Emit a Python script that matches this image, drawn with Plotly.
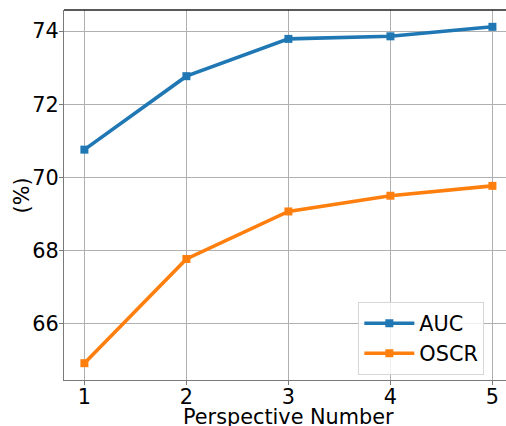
import plotly.graph_objects as go

perspectives = [1, 2, 3, 4, 5]
auc = [70.76, 72.77, 73.79, 73.86, 74.12]
oscr = [64.92, 67.77, 69.07, 69.50, 69.77]
y_ticks = [66, 68, 70, 72, 74]

FONT = "DejaVu Sans"
FS = 20.8

fig = go.Figure()
fig.add_trace(go.Scatter(x=perspectives, y=auc, name="AUC", mode="lines+markers",
                         line=dict(color="#1f77b4", width=3.6),
                         marker=dict(symbol="square", size=8, color="#1f77b4")))
fig.add_trace(go.Scatter(x=perspectives, y=oscr, name="OSCR", mode="lines+markers",
                         line=dict(color="#ff7f0e", width=3.6),
                         marker=dict(symbol="square", size=8, color="#ff7f0e")))

fig.update_layout(
    width=506, height=426,
    margin=dict(l=64, r=0, t=10, b=46, autoexpand=False),
    paper_bgcolor="white", plot_bgcolor="white",
    font=dict(family=FONT, size=FS, color="black"),
    showlegend=True,
    legend=dict(x=0.951, y=0.013, xanchor="right", yanchor="bottom",
                bgcolor="rgba(255,255,255,0.8)", bordercolor="#d6d6d6", borderwidth=1,
                font=dict(family=FONT, size=FS), itemwidth=50, tracegroupgap=0),
)
fig.update_xaxes(
    range=[0.8, 5.133], tickvals=perspectives, ticktext=[str(p) for p in perspectives],
    showgrid=True, gridcolor="#b0b0b0", gridwidth=1.1,
    showline=True, linecolor="#7a7a7a", linewidth=1.3, mirror=False,
    ticks="outside", ticklen=4, tickcolor="#7a7a7a", tickwidth=1.1,
    ticklabelstandoff=-6,
    zeroline=False, automargin=False,
)
fig.update_yaxes(
    range=[64.46, 74.58], tickvals=y_ticks, ticktext=[str(v) for v in y_ticks],
    showgrid=True, gridcolor="#b0b0b0", gridwidth=1.1,
    showline=True, linecolor="#7a7a7a", linewidth=1.3,
    ticks="outside", ticklen=4, tickcolor="#7a7a7a", tickwidth=1.1,
    ticklabelstandoff=-4,
    zeroline=False, automargin=False,
)
# axis titles
fig.add_annotation(text="Perspective Number", xref="paper", yref="paper",
                   x=0.5075, y=-0.061, xanchor="center", yanchor="top",
                   showarrow=False, font=dict(family=FONT, size=FS))
fig.add_annotation(text="(%)", xref="paper", yref="paper",
                   x=-0.094, y=0.5, xanchor="center", yanchor="middle",
                   textangle=-90, showarrow=False, font=dict(family=FONT, size=FS))
# top spine
fig.add_shape(type="line", xref="paper", yref="paper", x0=0, x1=1, y0=1, y1=1,
              line=dict(color="#222222", width=1.3))

fig.write_html("out.html")
